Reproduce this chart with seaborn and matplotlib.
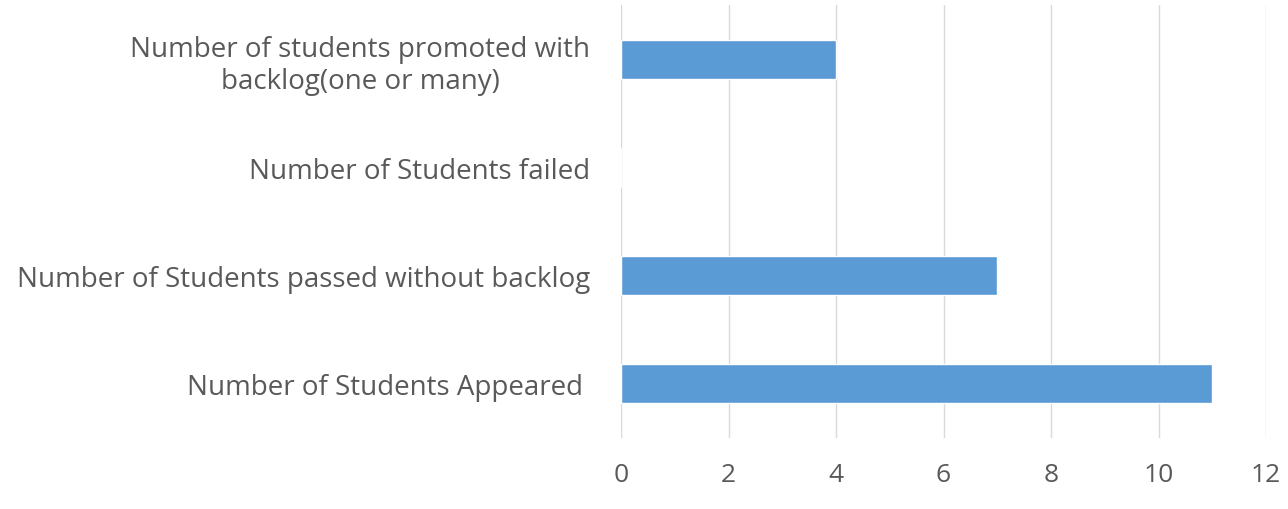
import matplotlib
matplotlib.use("Agg")
import matplotlib.pyplot as plt
import seaborn as sns
import pandas as pd

# data (top to bottom)
categories = [
    "Number of students promoted with\nbacklog(one or many)",
    "Number of Students failed",
    "Number of Students passed without backlog",
    "Number of Students Appeared ",
]
values = [4, 0, 7, 11]
x_ticks = [0, 2, 4, 6, 8, 10, 12]

df = pd.DataFrame({"category": categories, "value": values})

sns.set_style("white")
plt.rcParams["font.family"] = ["Open Sans", "DejaVu Sans"]

fig = plt.figure(figsize=(12.88, 5.10), dpi=100)
ax = fig.add_axes([621 / 1288, 71 / 510, 645 / 1288, 433 / 510])

sns.barplot(data=df, x="value", y="category", order=categories,
            color="#5B9BD5", saturation=1, width=0.36, ax=ax)

ax.set_xlim(0, 12)
ax.set_xticks(x_ticks)
ax.set_ylim(3.5, -0.5)
ax.grid(axis="x", color="#D9D9D9", linewidth=1)
ax.set_axisbelow(True)
for s in ax.spines.values():
    s.set_visible(False)
ax.set_xlabel("")
ax.set_ylabel("")
ax.tick_params(axis="both", length=0, colors="#595959")
ax.tick_params(axis="x", labelsize=19, pad=17)
ax.tick_params(axis="y", labelsize=20, pad=22)
for lbl in ax.get_yticklabels():
    lbl.set_multialignment("center")

fig.savefig("out.png", dpi=100)
